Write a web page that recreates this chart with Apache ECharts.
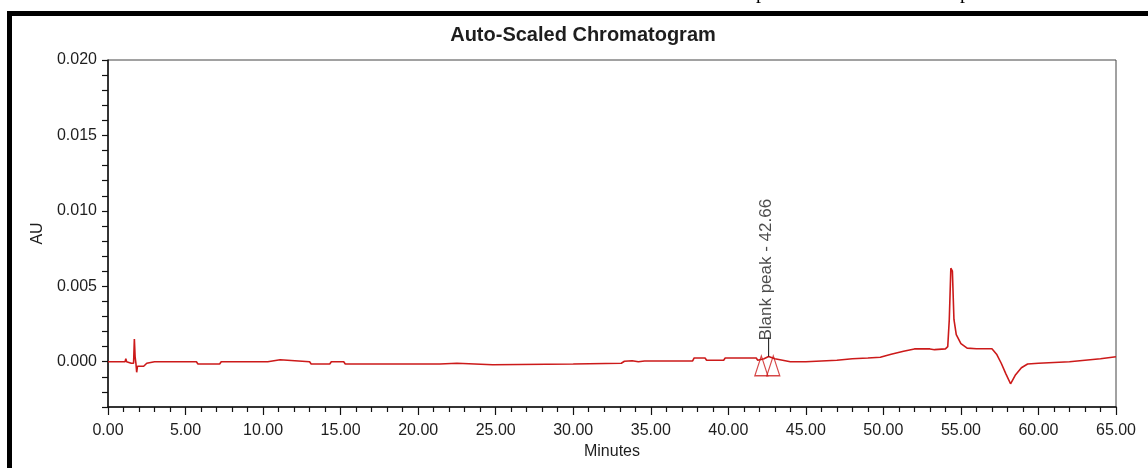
<!DOCTYPE html>
<html>
<head>
<meta charset="utf-8">
<title>Auto-Scaled Chromatogram</title>
<script src="https://cdn.jsdelivr.net/npm/echarts@6/dist/echarts.min.js"></script>
<style>
  html, body { margin: 0; padding: 0; background: #fff; }
  #chart { width: 1148px; height: 468px; }
</style>
</head>
<body>
<div id="chart"></div>
<script>
// retention time (minutes) and detector response (AU)
const times = [
  0.0, 1.1, 1.15, 1.2, 1.5, 1.65, 1.7, 1.75, 1.8, 1.85, 1.9, 2.3, 2.5, 2.6,
  3.0, 3.1, 3.2, 5.7, 5.8, 7.2, 7.3, 10.3, 10.4, 11.1, 11.2, 13.0, 13.1, 14.3,
  14.4, 15.2, 15.3, 21.4, 21.5, 22.5, 22.6, 24.8, 24.9, 30.0, 30.1, 33.1, 33.3,
  33.8, 34.2, 34.6, 37.7, 37.8, 38.5, 38.6, 39.7, 39.8, 41.8, 41.9, 42.3, 42.6,
  43.0, 43.5, 44.0, 45.0, 46.0, 47.0, 48.0, 49.0, 49.8, 50.5, 51.3, 52.0, 53.0,
  53.3, 54.0, 54.15, 54.25, 54.35, 54.45, 54.55, 54.7, 55.0, 55.4, 56.0, 57.0,
  57.3, 57.6, 57.9, 58.2, 58.5, 58.9, 59.3, 60.0, 61.0, 62.0, 63.0, 64.0, 65.0
];
const absorbance = [
  0.0, 0.0, 0.0002, 0.0, -0.0001, -0.0001, 0.0015, 0.0003, -0.0001, -0.0007, -0.0003, -0.0003, -0.0001, 0.0,
  0.0, 0.0001, 0.0, 0.0, -0.00015, -0.00015, 0.0, 0.0, 0.00013, 0.00013, 0.0, 0.0, -0.00015, -0.00015,
  0.0, 0.0, -0.00015, -0.00015, -0.0001, -0.0001, -0.0002, -0.0002, -0.00015, -0.00015, -0.0001, -0.0001, 0.00003,
  0.00007, 0.0, 0.00005, 0.00005, 0.00025, 0.00025, 0.0001, 0.0001, 0.00025, 0.00025, 0.0001, 0.0002, 0.00035,
  0.0002, 0.0001, 0.0, 0.0, 0.00005, 0.0001, 0.0002, 0.00025, 0.0003, 0.0005, 0.0007, 0.00085, 0.00085,
  0.0008, 0.00085, 0.001, 0.0028, 0.0062, 0.006, 0.0028, 0.0018, 0.0012, 0.0009, 0.00086, 0.00086,
  0.0005, -0.0001, -0.0008, -0.00146, -0.0009, -0.0004, -0.00015, -0.0001, -0.00005, 0.0, 0.0001, 0.0002, 0.00033
];

// integration start / end markers of the blank peak
const peakMarkTimes = [42.13, 42.9];
const peakMarkLevel = [-0.00027, -0.00027];

// peak label
const peakLabelText = 'Blank peak - 42.66';
const peakLabelTime = 42.6;
const peakLabelFrom = 0.00035;
const peakLabelTo = 0.0016;

const titleText = 'Auto-Scaled Chromatogram';
const xName = 'Minutes';
const yName = 'AU';

const tickFont = '"Liberation Sans", Arial, sans-serif';
const textColor = '#1e1e1e';
const traceColor = '#cc1a1a';

const trace = times.map((t, i) => [t, absorbance[i]]);
const marks = peakMarkTimes.map((t, i) => [t, peakMarkLevel[i]]);

const chart = echarts.init(document.getElementById('chart'), null, { renderer: 'canvas' });

const option = {
  animation: false,
  backgroundColor: '#fff',
  title: {
    text: titleText,
    left: 578,
    top: 20,
    textAlign: 'center',
    textStyle: {
      fontFamily: '"Liberation Sans", Arial, sans-serif',
      fontSize: 20,
      fontWeight: 'bold',
      color: textColor
    }
  },
  grid: {
    left: 108,
    top: 60,
    right: 32,
    bottom: 61,
    show: true,
    borderColor: '#444',
    borderWidth: 1
  },
  xAxis: {
    type: 'value',
    min: 0,
    max: 65,
    interval: 5,
    name: xName,
    nameLocation: 'middle',
    nameGap: 37,
    nameTextStyle: { fontFamily: tickFont, fontSize: 16, color: textColor },
    axisLine: { onZero: false, lineStyle: { color: '#111', width: 1.5 } },
    axisTick: { length: 8, lineStyle: { color: '#111', width: 1.2 } },
    minorTick: { show: true, splitNumber: 5, length: 5, lineStyle: { color: '#111', width: 1.2 } },
    axisLabel: {
      margin: 16,
      fontFamily: tickFont,
      fontSize: 16,
      color: textColor,
      formatter: v => v.toFixed(2)
    },
    splitLine: { show: false }
  },
  yAxis: {
    type: 'value',
    min: -0.003,
    max: 0.02,
    interval: 0.001,
    name: yName,
    nameLocation: 'middle',
    nameRotate: 90,
    nameGap: 50,
    nameTextStyle: { fontFamily: '"Liberation Sans", Arial, sans-serif', fontSize: 16, color: textColor },
    axisLine: { show: true, lineStyle: { color: '#111', width: 1.5 } },
    axisTick: { length: 6, lineStyle: { color: '#111', width: 1.2 } },
    axisLabel: {
      margin: 11,
      fontFamily: tickFont,
      fontSize: 16,
      color: textColor,
      formatter: v => (Math.round(v * 1000) % 5 === 0 ? v.toFixed(3) : '')
    },
    splitLine: { show: false }
  },
  series: [
    {
      type: 'line',
      data: trace,
      showSymbol: false,
      lineStyle: { color: traceColor, width: 1.6 },
      z: 3
    },
    {
      // leader line from the peak up to its label
      type: 'line',
      data: [[peakLabelTime, peakLabelFrom], [peakLabelTime, peakLabelTo]],
      showSymbol: false,
      lineStyle: { color: '#111', width: 1 },
      z: 4
    },
    {
      type: 'scatter',
      data: marks,
      symbol: 'triangle',
      symbolSize: [13, 20],
      itemStyle: { color: 'rgba(255,255,255,0)', borderColor: traceColor, borderWidth: 1.3 },
      z: 5
    },
    {
      type: 'scatter',
      data: [[peakLabelTime, peakLabelTo]],
      symbolSize: 0,
      label: {
        show: true,
        position: 'inside',
        offset: [-3, -2],
        rotate: 90,
        align: 'left',
        verticalAlign: 'middle',
        formatter: peakLabelText,
        fontFamily: '"Liberation Sans", Arial, sans-serif',
        fontSize: 17,
        color: textColor
      },
      z: 5
    }
  ],
  graphic: [
    {
      // heavy outer frame of the figure
      type: 'rect',
      shape: { x: 9.5, y: 13.5, width: 1300, height: 600 },
      style: { fill: 'none', stroke: '#000', lineWidth: 5 },
      silent: true
    },
    {
      // descenders of the caption line cut off above the figure
      type: 'text',
      left: 756,
      top: -17,
      style: { text: 'p', font: '20px "Liberation Serif", serif', fill: '#000' },
      silent: true
    },
    {
      type: 'text',
      left: 960,
      top: -17,
      style: { text: 'p', font: '20px "Liberation Serif", serif', fill: '#000' },
      silent: true
    }
  ]
};

chart.setOption(option);
</script>
</body>
</html>
